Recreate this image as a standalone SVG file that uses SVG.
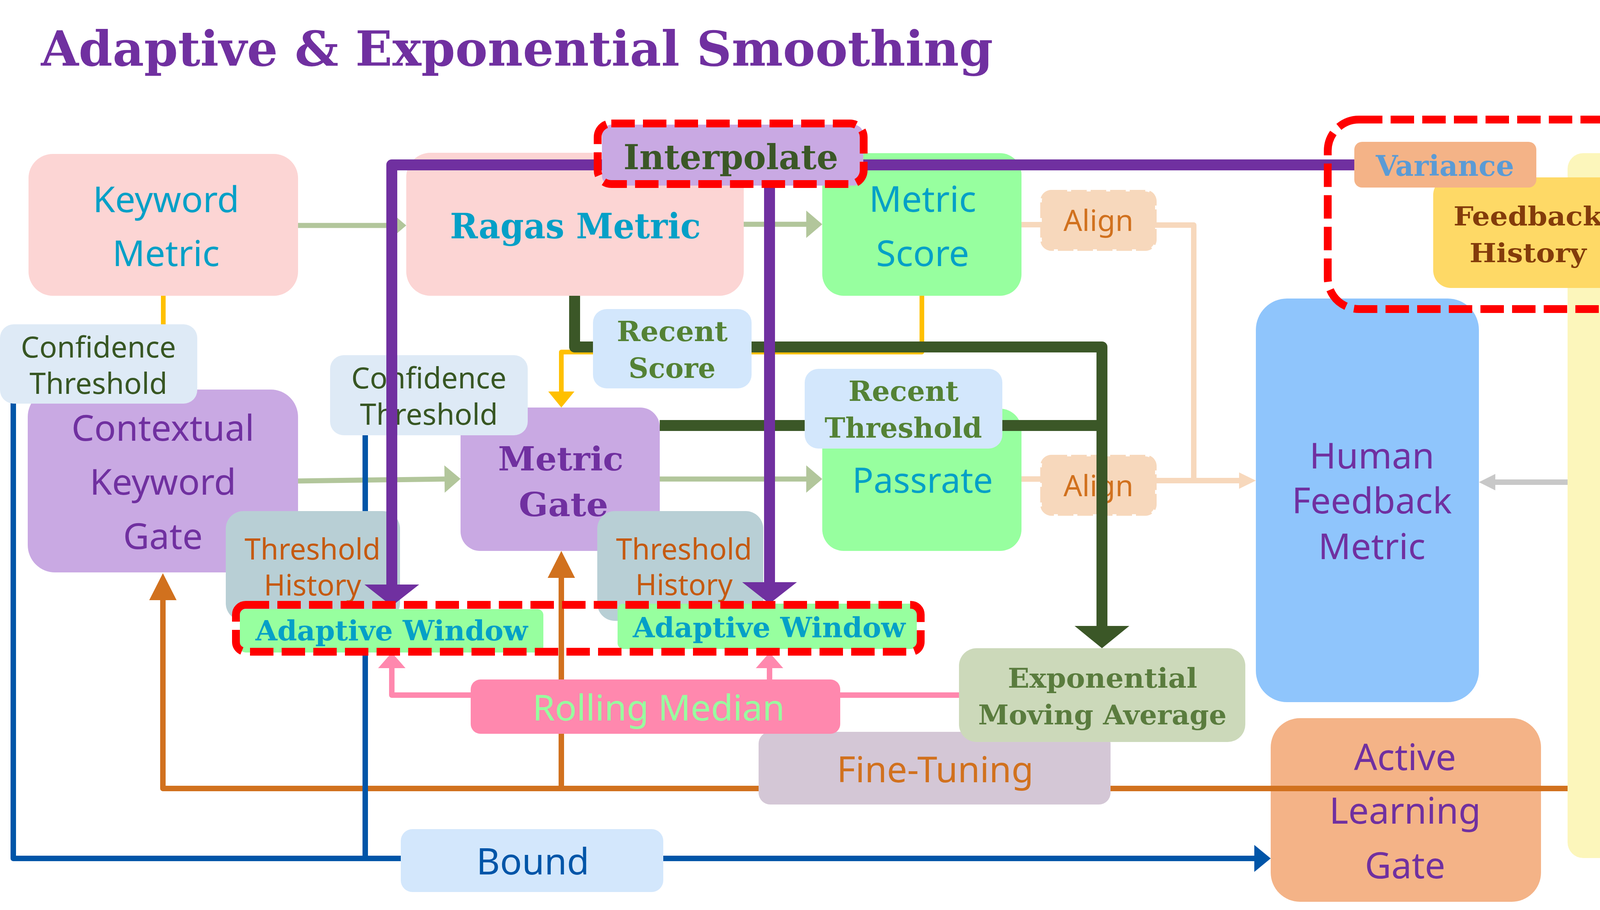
<svg xmlns="http://www.w3.org/2000/svg" width="4298" height="2329" viewBox="0 0 4298 2329">
<defs>
<style>
.sans{font-family:"Noto Sans","Open Sans","Liberation Sans",sans-serif;}
.slab{font-family:"DejaVu Serif","Liberation Serif",serif;font-weight:bold;}
.c{text-anchor:middle;}
.teal{fill:#04A0C7;}
.purp{fill:#7030A0;}
.dgt{fill:#375623;}
.hl{fill:none;stroke:#FF0000;stroke-width:20;stroke-dasharray:60 21;}
.ln{fill:none;stroke-linejoin:round;stroke-linecap:butt;}
.align{fill:#F7D8BC;stroke:#F7D8BC;stroke-width:8;stroke-dasharray:40 10;}
</style>
<marker id="m-gg" markerUnits="userSpaceOnUse" markerWidth="41" markerHeight="70" refX="0" refY="35" orient="auto" overflow="visible"><path d="M0,0 L41,35 L0,70 z" fill="#B2C69B"/></marker>
<marker id="m-yel" markerUnits="userSpaceOnUse" markerWidth="41" markerHeight="67" refX="0" refY="33.5" orient="auto" overflow="visible"><path d="M0,0 L41,33.5 L0,67 z" fill="#FFC000"/></marker>
<marker id="m-peach" markerUnits="userSpaceOnUse" markerWidth="43" markerHeight="42" refX="0" refY="21" orient="auto" overflow="visible"><path d="M0,0 L43,21 L0,42 z" fill="#F7D8BC"/></marker>
<marker id="m-gray" markerUnits="userSpaceOnUse" markerWidth="42" markerHeight="42" refX="0" refY="21" orient="auto" overflow="visible"><path d="M0,0 L42,21 L0,42 z" fill="#C8C8C8"/></marker>
<marker id="m-or" markerUnits="userSpaceOnUse" markerWidth="69" markerHeight="70" refX="0" refY="35" orient="auto" overflow="visible"><path d="M0,0 L69,35 L0,70 z" fill="#D1711E"/></marker>
<marker id="m-blue" markerUnits="userSpaceOnUse" markerWidth="42" markerHeight="69" refX="0" refY="34.5" orient="auto" overflow="visible"><path d="M0,0 L42,34.5 L0,69 z" fill="#0055A8"/></marker>
<marker id="m-pink" markerUnits="userSpaceOnUse" markerWidth="40" markerHeight="70" refX="0" refY="35" orient="auto" overflow="visible"><path d="M0,0 L40,35 L0,70 z" fill="#FF88AE"/></marker>
<marker id="m-dg" markerUnits="userSpaceOnUse" markerWidth="57" markerHeight="140" refX="0" refY="70" orient="auto" overflow="visible"><path d="M0,0 L57,70 L0,140 z" fill="#3B5727"/></marker>
<marker id="m-pur" markerUnits="userSpaceOnUse" markerWidth="55" markerHeight="140" refX="0" refY="70" orient="auto" overflow="visible"><path d="M0,0 L55,70 L0,140 z" fill="#7030A0"/></marker>
</defs>
<rect x="0" y="0" width="4298" height="2329" fill="#FFFFFF"/>

<text id="title" class="slab" x="105" y="168" font-size="123" fill="#7030A0" textLength="2437" lengthAdjust="spacingAndGlyphs">Adaptive &amp; Exponential Smoothing</text>

<!-- main nodes -->
<g id="keyword-metric">
<rect x="73" y="394" width="690" height="363" rx="62" fill="#FCD5D4"/>
<text class="sans c teal" x="425" y="543" font-size="92">Keyword</text>
<text class="sans c teal" x="425" y="681" font-size="92">Metric</text>
</g>
<g id="ragas-metric">
<rect x="1040" y="391" width="864" height="366" rx="62" fill="#FCD5D4"/>
<text class="slab teal" x="1152" y="610" font-size="89" textLength="642" lengthAdjust="spacingAndGlyphs">Ragas Metric</text>
</g>
<g id="metric-score">
<rect x="2105" y="392" width="510" height="365" rx="55" fill="#97FF9F"/>
<text class="sans c teal" x="2362" y="542" font-size="92">Metric</text>
<text class="sans c teal" x="2362" y="681" font-size="92">Score</text>
</g>
<g id="contextual-keyword-gate">
<rect x="71" y="997" width="692" height="468" rx="70" fill="#C9A9E3"/>
<text class="sans c purp" x="417" y="1128" font-size="92">Contextual</text>
<text class="sans c purp" x="417" y="1266" font-size="92">Keyword</text>
<text class="sans c purp" x="417" y="1405" font-size="92">Gate</text>
</g>
<g id="metric-gate">
<rect x="1179" y="1043" width="510" height="367" rx="50" fill="#C9A9E3"/>
<text class="slab purp" x="1275" y="1204" font-size="85" textLength="321" lengthAdjust="spacingAndGlyphs">Metric</text>
<text class="slab purp" x="1328" y="1321" font-size="85" textLength="229" lengthAdjust="spacingAndGlyphs">Gate</text>
</g>
<g id="passrate">
<rect x="2105" y="1046" width="510" height="364" rx="55" fill="#97FF9F"/>
<text class="sans c teal" x="2362" y="1261" font-size="90">Passrate</text>
</g>
<g id="human-feedbacks">
<rect x="4013" y="392" width="241" height="1804" rx="40" fill="#FCF6BB"/>
<text class="sans c purp" transform="translate(4097,1296) rotate(90)" x="0" y="0" font-size="90">Human Feedbacks</text>
</g>
<g id="feedback-history">
<rect x="3669" y="454" width="486" height="283" rx="45" fill="#FED966"/>
<text class="slab" x="3721" y="577" font-size="68" fill="#833C0B" textLength="381" lengthAdjust="spacingAndGlyphs">Feedback</text>
<text class="slab" x="3762" y="671" font-size="68" fill="#833C0B" textLength="299" lengthAdjust="spacingAndGlyphs">History</text>
</g>
<g id="human-feedback-metric">
<rect x="3215" y="764" width="571" height="1033" rx="80" fill="#8FC5FC"/>
<text class="sans c purp" x="3512" y="1199" font-size="92">Human</text>
<text class="sans c purp" x="3512" y="1314" font-size="92">Feedback</text>
<text class="sans c purp" x="3512" y="1431" font-size="92">Metric</text>
</g>
<g id="active-learning-gate">
<rect x="3253" y="1838" width="692" height="470" rx="75" fill="#F4B387"/>
<text class="sans c purp" x="3597" y="1971" font-size="93">Active</text>
<text class="sans c purp" x="3597" y="2108" font-size="93">Learning</text>
<text class="sans c purp" x="3597" y="2248" font-size="93">Gate</text>
</g>

<!-- connectors (base layer) -->
<g id="connectors">
<g class="ln" stroke="#B2C69B" stroke-width="13">
<path d="M763 577 H999" marker-end="url(#m-gg)"/>
<path d="M1904 574 H2064" marker-end="url(#m-gg)"/>
<path d="M763 1231 L1138 1226" marker-end="url(#m-gg)"/>
<path d="M1689 1226 H2064" marker-end="url(#m-gg)"/>
</g>
<g class="ln" stroke="#FFC000" stroke-width="12">
<path d="M418 757 V997"/>
<path d="M2360 757 V901 H1437 V1002" marker-end="url(#m-yel)"/>
</g>
<g class="ln" stroke="#F7D8BC" stroke-width="14">
<path d="M2615 575 H2667"/>
<path d="M2957 576 H3056 V1230"/>
<path d="M2615 1226 H2667"/>
<path d="M2957 1230 H3172" marker-end="url(#m-peach)"/>
</g>
<path class="ln" d="M4013 1234 H3828" stroke="#C8C8C8" stroke-width="14" marker-end="url(#m-gray)"/>
<g class="ln" stroke="#D1711E" stroke-width="14">
<path d="M4013 2018 H417 V1536" marker-end="url(#m-or)"/>
<path d="M1437 2018 V1479" marker-end="url(#m-or)"/>
</g>
<g class="ln" stroke="#0055A8" stroke-width="14">
<path d="M34 1000 V2197 H3211" marker-end="url(#m-blue)"/>
<path d="M935 1000 V2197"/>
</g>
<g class="ln" stroke="#FF88AE" stroke-width="14">
<path d="M2455 1779 H1003 V1710" marker-end="url(#m-pink)"/>
<path d="M1970 1779 V1710" marker-end="url(#m-pink)"/>
</g>
</g>

<!-- edge labels / secondary nodes -->
<g id="align-top">
<rect class="align" x="2667" y="490" width="290" height="148" rx="25"/>
<text class="sans c" x="2812" y="591" font-size="75" fill="#D1711E">Align</text>
</g>
<g id="align-bottom">
<rect class="align" x="2667" y="1168" width="290" height="148" rx="25"/>
<text class="sans c" x="2812" y="1270" font-size="75" fill="#D1711E">Align</text>
</g>
<g id="confidence-threshold-1">
<rect x="0" y="830" width="505" height="203" rx="35" fill="#DEEAF6"/>
<text class="sans c dgt" x="252" y="915" font-size="75">Confidence</text>
<text class="sans c dgt" x="252" y="1008" font-size="75">Threshold</text>
</g>
<g id="confidence-threshold-2">
<rect x="845" y="909" width="506" height="205" rx="35" fill="#DEEAF6"/>
<text class="sans c dgt" x="1098" y="994" font-size="75">Confidence</text>
<text class="sans c dgt" x="1098" y="1087" font-size="75">Threshold</text>
</g>
<g id="threshold-history-1">
<rect x="578" y="1308" width="446" height="281" rx="45" fill="#B8CFD5"/>
<text class="sans c" x="800" y="1432" font-size="74" fill="#C55A11">Threshold</text>
<text class="sans c" x="800" y="1524" font-size="74" fill="#C55A11">History</text>
</g>
<g id="threshold-history-2">
<rect x="1529" y="1308" width="425" height="281" rx="45" fill="#B8CFD5"/>
<text class="sans c" x="1751" y="1432" font-size="74" fill="#C55A11">Threshold</text>
<text class="sans c" x="1751" y="1523" font-size="74" fill="#C55A11">History</text>
</g>
<g id="fine-tuning">
<rect x="1942" y="1873" width="901" height="186" rx="30" fill="#D4C7D6"/>
<text class="sans c" x="2394" y="2002" font-size="92" fill="#D1711E">Fine-Tuning</text>
</g>
<g id="rolling-median">
<rect x="1205" y="1739" width="946" height="139" rx="25" fill="#FF88AE"/>
<text class="sans c" x="1686" y="1844" font-size="92" fill="#97FF9F">Rolling Median</text>
</g>
<g id="exponential-moving-average">
<rect x="2455" y="1659" width="733" height="240" rx="45" fill="#CCD9BA"/>
<text class="slab" x="2580" y="1760" font-size="69" fill="#5A7C3E" textLength="485" lengthAdjust="spacingAndGlyphs">Exponential</text>
<text class="slab" x="2504" y="1854" font-size="69" fill="#5A7C3E" textLength="636" lengthAdjust="spacingAndGlyphs">Moving Average</text>
</g>
<g id="bound">
<rect x="1026" y="2122" width="672" height="161" rx="30" fill="#D3E7FC"/>
<text class="sans c" x="1364" y="2238" font-size="93" fill="#0055A8">Bound</text>
</g>

<!-- dark green connectors -->
<g id="connectors-smoothing" class="ln" stroke="#3B5727" stroke-width="28">
<path d="M1471 757 V888 H2821 V1602" marker-end="url(#m-dg)"/>
<path d="M1689 1089 H2821"/>
</g>

<g id="recent-score">
<rect x="1518" y="791" width="406" height="203" rx="35" fill="#D3E7FC"/>
<text class="slab" x="1579" y="873" font-size="71" fill="#548235" textLength="284" lengthAdjust="spacingAndGlyphs">Recent</text>
<text class="slab" x="1609" y="967" font-size="71" fill="#548235" textLength="223" lengthAdjust="spacingAndGlyphs">Score</text>
</g>
<g id="recent-threshold">
<rect x="2060" y="944" width="506" height="204" rx="35" fill="#D3E7FC"/>
<text class="slab" x="2172" y="1026" font-size="71" fill="#548235" textLength="282" lengthAdjust="spacingAndGlyphs">Recent</text>
<text class="slab" x="2111" y="1120" font-size="71" fill="#548235" textLength="403" lengthAdjust="spacingAndGlyphs">Threshold</text>
</g>

<!-- purple interpolation connectors -->
<g id="connectors-interpolate" class="ln" stroke="#7030A0" stroke-width="28">
<path d="M3500 422 H1003 V1496" marker-end="url(#m-pur)"/>
<path d="M1970 475 V1490" marker-end="url(#m-pur)"/>
</g>

<g id="interpolate">
<rect x="1541" y="319" width="669" height="156" rx="25" fill="#C9A9E3"/>
<text class="slab" x="1596" y="433" font-size="88" fill="#3B5727" textLength="550" lengthAdjust="spacingAndGlyphs">Interpolate</text>
</g>
<g id="variance">
<rect x="3467" y="363" width="466" height="117" rx="20" fill="#F4B387"/>
<text class="slab" x="3522" y="450" font-size="73" fill="#5B9BD5" textLength="354" lengthAdjust="spacingAndGlyphs">Variance</text>
</g>

<g id="adaptive-window-1">
<rect x="614" y="1559" width="777" height="111" rx="15" fill="#97FF9F"/>
<text class="slab teal" x="654" y="1639" font-size="71" textLength="697" lengthAdjust="spacingAndGlyphs">Adaptive Window</text>
</g>
<g id="adaptive-window-2">
<rect x="1581" y="1545" width="766" height="116" rx="15" fill="#97FF9F"/>
<text class="slab teal" x="1620" y="1631" font-size="71" textLength="698" lengthAdjust="spacingAndGlyphs">Adaptive Window</text>
</g>

<!-- highlight frames -->
<g id="highlights">
<rect class="hl" x="1530" y="316" width="681" height="155" rx="35"/>
<rect class="hl" x="3399" y="306" width="827" height="485" rx="80"/>
<rect class="hl" x="604" y="1548" width="1753" height="120" rx="25"/>
</g>
</svg>
